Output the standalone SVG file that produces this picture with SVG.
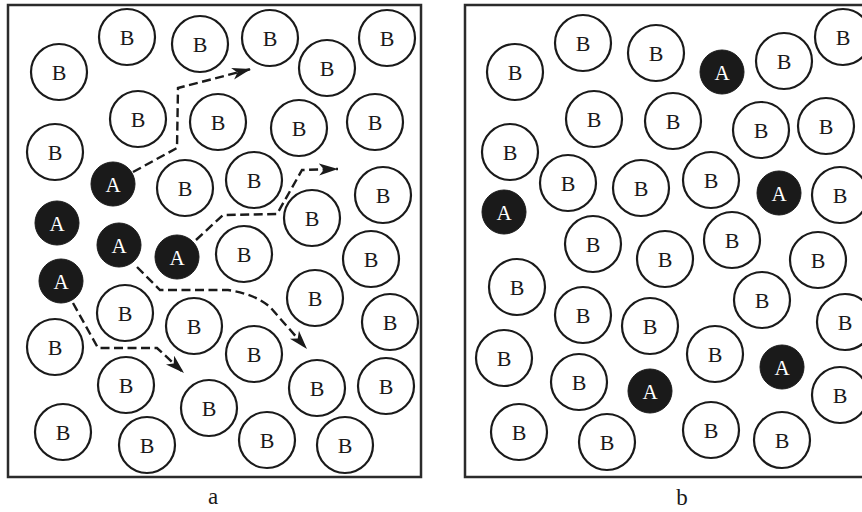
<svg xmlns="http://www.w3.org/2000/svg" width="862" height="512" viewBox="0 0 862 512">
<style>
.frame{fill:none;stroke:#2b2b2b;stroke-width:2.5}
.nb circle{fill:#fff;stroke:#1a1a1a;stroke-width:2.2}
.nb text{font-family:"Liberation Serif","Times New Roman",serif;font-size:22px;fill:#1a1a1a;text-anchor:middle}
.na circle{fill:#1a1a1a;stroke:#1a1a1a;stroke-width:1}
.na text{font-family:"Liberation Serif","Times New Roman",serif;font-size:21px;fill:#fff;text-anchor:middle}
.path{fill:none;stroke:#1a1a1a;stroke-width:2.4;stroke-dasharray:9 4.5;marker-end:url(#arr)}
.lbl{font-family:"Liberation Serif","Times New Roman",serif;font-size:23px;fill:#1a1a1a;text-anchor:middle}
</style>
<defs>
<marker id="arr" markerUnits="userSpaceOnUse" markerWidth="22" markerHeight="14" refX="19" refY="6" orient="auto">
<path d="M0,0 L19,6 L0,12 L5,6 Z" fill="#1a1a1a"/>
</marker>
</defs>
<rect width="862" height="512" fill="#fff"/>
<rect class="frame" x="8" y="5" width="413" height="472"/>
<rect class="frame" x="465" y="5" width="410" height="472"/>

<g id="panel-a">
<g id="a-B1" class="nb"><circle cx="127" cy="37" r="28"/><text x="127" y="45">B</text></g>
<g id="a-B2" class="nb"><circle cx="200" cy="44" r="28"/><text x="200" y="52">B</text></g>
<g id="a-B3" class="nb"><circle cx="270" cy="38" r="28"/><text x="270" y="46">B</text></g>
<g id="a-B4" class="nb"><circle cx="387" cy="38" r="28"/><text x="387" y="46">B</text></g>
<g id="a-B5" class="nb"><circle cx="327" cy="68" r="28"/><text x="327" y="76">B</text></g>
<g id="a-B6" class="nb"><circle cx="59" cy="72" r="28"/><text x="59" y="80">B</text></g>
<g id="a-B7" class="nb"><circle cx="138" cy="119" r="28"/><text x="138" y="127">B</text></g>
<g id="a-B8" class="nb"><circle cx="218" cy="122" r="28"/><text x="218" y="130">B</text></g>
<g id="a-B9" class="nb"><circle cx="299" cy="128" r="28"/><text x="299" y="136">B</text></g>
<g id="a-B10" class="nb"><circle cx="375" cy="122" r="28"/><text x="375" y="130">B</text></g>
<g id="a-B11" class="nb"><circle cx="55" cy="152" r="28"/><text x="55" y="160">B</text></g>
<g id="a-B12" class="nb"><circle cx="185" cy="188" r="28"/><text x="185" y="196">B</text></g>
<g id="a-B13" class="nb"><circle cx="254" cy="180" r="28"/><text x="254" y="188">B</text></g>
<g id="a-B14" class="nb"><circle cx="312" cy="218" r="28"/><text x="312" y="226">B</text></g>
<g id="a-B15" class="nb"><circle cx="383" cy="195" r="28"/><text x="383" y="203">B</text></g>
<g id="a-B16" class="nb"><circle cx="244" cy="254" r="28"/><text x="244" y="262">B</text></g>
<g id="a-B17" class="nb"><circle cx="371" cy="259" r="28"/><text x="371" y="267">B</text></g>
<g id="a-B18" class="nb"><circle cx="315" cy="298" r="28"/><text x="315" y="306">B</text></g>
<g id="a-B19" class="nb"><circle cx="390" cy="322" r="28"/><text x="390" y="330">B</text></g>
<g id="a-B20" class="nb"><circle cx="125" cy="313" r="28"/><text x="125" y="321">B</text></g>
<g id="a-B21" class="nb"><circle cx="194" cy="326" r="28"/><text x="194" y="334">B</text></g>
<g id="a-B22" class="nb"><circle cx="254" cy="354" r="28"/><text x="254" y="362">B</text></g>
<g id="a-B23" class="nb"><circle cx="55" cy="347" r="28"/><text x="55" y="355">B</text></g>
<g id="a-B24" class="nb"><circle cx="126" cy="385" r="28"/><text x="126" y="393">B</text></g>
<g id="a-B25" class="nb"><circle cx="209" cy="408" r="28"/><text x="209" y="416">B</text></g>
<g id="a-B26" class="nb"><circle cx="317" cy="388" r="28"/><text x="317" y="396">B</text></g>
<g id="a-B27" class="nb"><circle cx="386" cy="386" r="28"/><text x="386" y="394">B</text></g>
<g id="a-B28" class="nb"><circle cx="63" cy="432" r="28"/><text x="63" y="440">B</text></g>
<g id="a-B29" class="nb"><circle cx="147" cy="445" r="28"/><text x="147" y="453">B</text></g>
<g id="a-B30" class="nb"><circle cx="267" cy="440" r="28"/><text x="267" y="448">B</text></g>
<g id="a-B31" class="nb"><circle cx="345" cy="445" r="28"/><text x="345" y="453">B</text></g>
<g id="a-A1" class="na"><circle cx="113" cy="184" r="22"/><text x="113" y="191.5">A</text></g>
<g id="a-A2" class="na"><circle cx="57" cy="223" r="22"/><text x="57" y="230.5">A</text></g>
<g id="a-A3" class="na"><circle cx="119" cy="245" r="22"/><text x="119" y="252.5">A</text></g>
<g id="a-A4" class="na"><circle cx="177" cy="257" r="22"/><text x="177" y="264.5">A</text></g>
<g id="a-A5" class="na"><circle cx="61" cy="281" r="22"/><text x="61" y="288.5">A</text></g>
</g>

<g id="connectors">
<path class="path" d="M133,172 L177,148 L178,88 L251,69"/>
<path class="path" d="M196,240 L223,215 L277,214 L302,170 L338,169"/>
<path class="path" d="M137,267 L160,290 L228,290 Q255,294 270,307 L307,349"/>
<path class="path" d="M73,303 L98,348 L157,348 L184,373"/>
</g>

<g id="panel-b">
<g id="b-B1" class="nb"><circle cx="583" cy="43" r="28"/><text x="583" y="51">B</text></g>
<g id="b-B2" class="nb"><circle cx="656" cy="53" r="28"/><text x="656" y="61">B</text></g>
<g id="b-B3" class="nb"><circle cx="515" cy="72" r="28"/><text x="515" y="80">B</text></g>
<g id="b-B4" class="nb"><circle cx="594" cy="119" r="28"/><text x="594" y="127">B</text></g>
<g id="b-B5" class="nb"><circle cx="673" cy="121" r="28"/><text x="673" y="129">B</text></g>
<g id="b-B6" class="nb"><circle cx="510" cy="152" r="28"/><text x="510" y="160">B</text></g>
<g id="b-B7" class="nb"><circle cx="568" cy="183" r="28"/><text x="568" y="191">B</text></g>
<g id="b-B8" class="nb"><circle cx="641" cy="188" r="28"/><text x="641" y="196">B</text></g>
<g id="b-B9" class="nb"><circle cx="593" cy="244" r="28"/><text x="593" y="252">B</text></g>
<g id="b-B10" class="nb"><circle cx="665" cy="259" r="28"/><text x="665" y="267">B</text></g>
<g id="b-B11" class="nb"><circle cx="784" cy="61" r="28"/><text x="784" y="69">B</text></g>
<g id="b-B12" class="nb"><circle cx="843" cy="37" r="28"/><text x="843" y="45">B</text></g>
<g id="b-B13" class="nb"><circle cx="761" cy="130" r="28"/><text x="761" y="138">B</text></g>
<g id="b-B14" class="nb"><circle cx="826" cy="126" r="28"/><text x="826" y="134">B</text></g>
<g id="b-B15" class="nb"><circle cx="711" cy="180" r="28"/><text x="711" y="188">B</text></g>
<g id="b-B16" class="nb"><circle cx="840" cy="195" r="28"/><text x="840" y="203">B</text></g>
<g id="b-B17" class="nb"><circle cx="732" cy="240" r="28"/><text x="732" y="248">B</text></g>
<g id="b-B18" class="nb"><circle cx="818" cy="260" r="28"/><text x="818" y="268">B</text></g>
<g id="b-B19" class="nb"><circle cx="762" cy="300" r="28"/><text x="762" y="308">B</text></g>
<g id="b-B20" class="nb"><circle cx="845" cy="322" r="28"/><text x="845" y="330">B</text></g>
<g id="b-B21" class="nb"><circle cx="650" cy="326" r="28"/><text x="650" y="334">B</text></g>
<g id="b-B22" class="nb"><circle cx="715" cy="354" r="28"/><text x="715" y="362">B</text></g>
<g id="b-B23" class="nb"><circle cx="840" cy="395" r="28"/><text x="840" y="403">B</text></g>
<g id="b-B24" class="nb"><circle cx="711" cy="430" r="28"/><text x="711" y="438">B</text></g>
<g id="b-B25" class="nb"><circle cx="782" cy="440" r="28"/><text x="782" y="448">B</text></g>
<g id="b-B26" class="nb"><circle cx="517" cy="287" r="28"/><text x="517" y="295">B</text></g>
<g id="b-B27" class="nb"><circle cx="583" cy="315" r="28"/><text x="583" y="323">B</text></g>
<g id="b-B28" class="nb"><circle cx="504" cy="358" r="28"/><text x="504" y="366">B</text></g>
<g id="b-B29" class="nb"><circle cx="579" cy="382" r="28"/><text x="579" y="390">B</text></g>
<g id="b-B30" class="nb"><circle cx="519" cy="432" r="28"/><text x="519" y="440">B</text></g>
<g id="b-B31" class="nb"><circle cx="607" cy="442" r="28"/><text x="607" y="450">B</text></g>
<g id="b-A1" class="na"><circle cx="504" cy="212" r="22"/><text x="504" y="219.5">A</text></g>
<g id="b-A2" class="na"><circle cx="722" cy="72" r="22"/><text x="722" y="79.5">A</text></g>
<g id="b-A3" class="na"><circle cx="779" cy="193" r="22"/><text x="779" y="200.5">A</text></g>
<g id="b-A4" class="na"><circle cx="782" cy="367" r="22"/><text x="782" y="374.5">A</text></g>
<g id="b-A5" class="na"><circle cx="650" cy="391" r="22"/><text x="650" y="398.5">A</text></g>
</g>

<text class="lbl" x="213" y="504">a</text>
<text class="lbl" x="682" y="505">b</text>
</svg>
